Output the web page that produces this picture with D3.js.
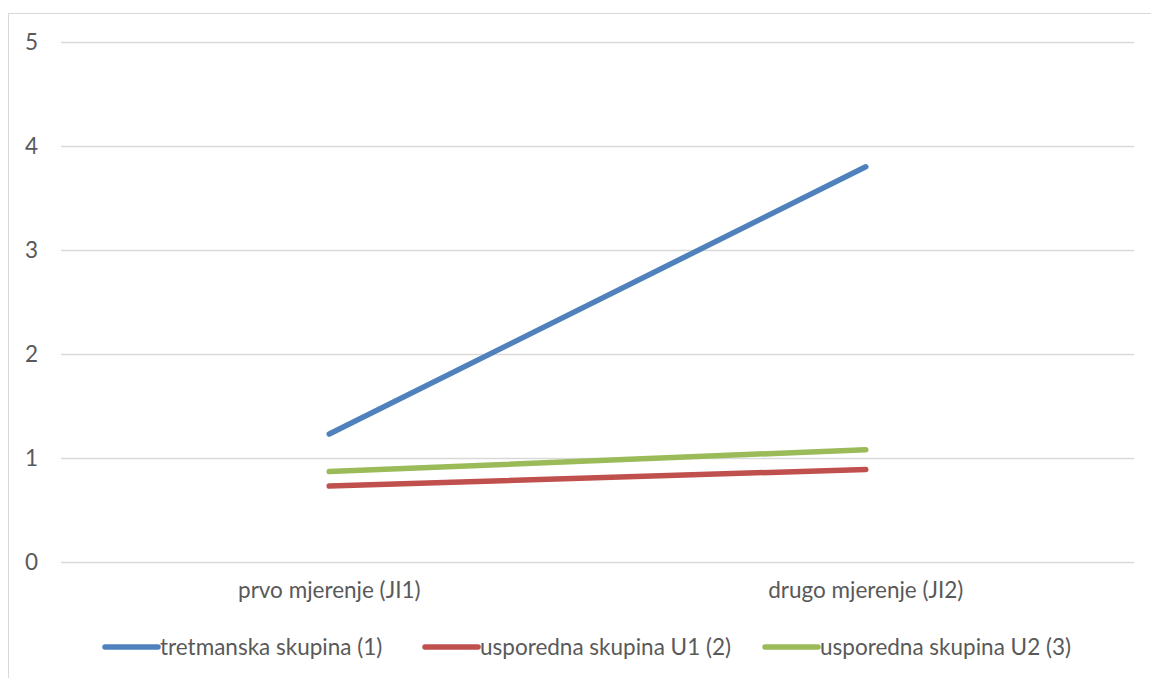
<!DOCTYPE html>
<html><head><meta charset="utf-8">
<script src="https://cdn.jsdelivr.net/npm/d3@7"></script>
<style>body{margin:0;background:#fff;} text{font-family:Lato,"Open Sans",sans-serif;fill:#595959;}</style>
</head><body>
<svg id="c" width="1151" height="678"></svg>
<script>
const categories = ["prvo mjerenje (JI1)", "drugo mjerenje (JI2)"];
const seriesNames = ["tretmanska skupina (1)", "usporedna skupina U1 (2)", "usporedna skupina U2 (3)"];
const tretmanska = [1.23, 3.80];
const usporednaU1 = [0.73, 0.89];
const usporednaU2 = [0.87, 1.08];
const yTicks = [0, 1, 2, 3, 4, 5];
const colors = ["#4f81bd", "#c0504d", "#9bbb59"];
const series = [tretmanska, usporednaU1, usporednaU2];

const svg = d3.select("#c");
svg.append("rect").attr("x",8.5).attr("y",13.5).attr("width",1150).attr("height",700)
  .attr("fill","#fff").attr("stroke","#d9d9d9");
const pL = 61, pR = 1134, pT = 42, pB = 562;
const x = d3.scaleBand().domain(categories).range([pL, pR]);
const y = d3.scaleLinear().domain([0,5]).range([pB, pT]);
const fs = 22.5;

const gy = svg.append("g").attr("transform",`translate(${pL},0)`)
  .call(d3.axisLeft(y).tickValues(yTicks).tickSize(-(pR-pL)).tickPadding(23).tickFormat(d3.format("d")));
gy.select(".domain").remove();
gy.selectAll("line").attr("stroke","#d9d9d9").attr("stroke-width",1.5);
gy.selectAll("text").attr("font-size",fs).style("fill","#595959");

const gx = svg.append("g").attr("transform",`translate(0,${pB})`)
  .call(d3.axisBottom(x).tickSize(0).tickPadding(20));
gx.select(".domain").remove();
gx.selectAll("text").attr("font-size",fs).style("fill","#595959");
svg.selectAll("g").attr("font-family",null);

const line = d3.line().x((d,i)=>x(categories[i])+x.bandwidth()/2).y(d=>y(d));
series.forEach((s,i)=>{
  svg.append("path").datum(s).attr("d",line).attr("fill","none")
    .attr("stroke",colors[i]).attr("stroke-width",5.5).attr("stroke-linecap","round");
});

const legendX = [105, 425, 765];
seriesNames.forEach((n,i)=>{
  const g = svg.append("g").attr("transform",`translate(${legendX[i]},647)`);
  g.append("line").attr("x1",0).attr("x2",53).attr("stroke",colors[i]).attr("stroke-width",5.5).attr("stroke-linecap","round");
  g.append("text").attr("x",55).attr("dy","0.35em").attr("font-size",fs).text(n);
});
</script>
</body></html>
